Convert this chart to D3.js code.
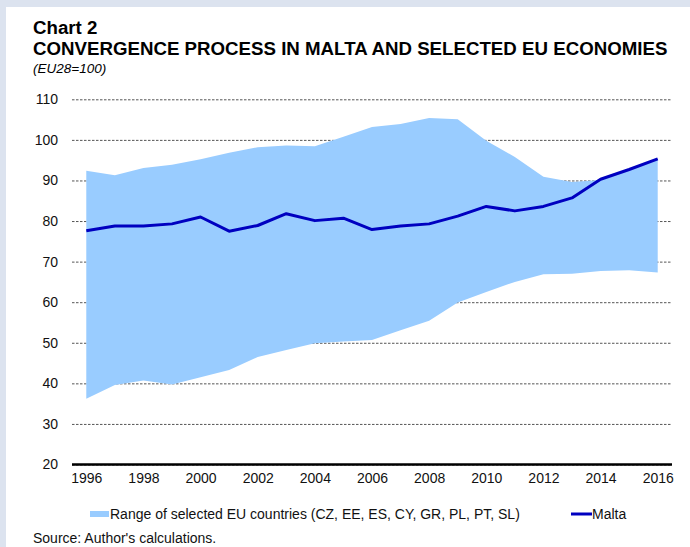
<!DOCTYPE html>
<html>
<meta charset="utf-8">
<script src="https://d3js.org/d3.v7.min.js"></script>
<style>
  body { margin: 0; background: #dce3ef; }
  svg { display: block; font-family: "Liberation Sans", Arial, sans-serif; }
</style>
<body>
<div id="my_dataviz"></div>
<script>

// years on the x axis
var years = [1996, 1997, 1998, 1999, 2000, 2001, 2002, 2003, 2004, 2005, 2006,
             2007, 2008, 2009, 2010, 2011, 2012, 2013, 2014, 2015, 2016];

// Malta, EU28=100
var malta = [77.6, 78.8, 78.8, 79.3, 81.0, 77.5, 78.9, 81.8, 80.1, 80.7, 77.9,
             78.8, 79.3, 81.2, 83.6, 82.5, 83.6, 85.7, 90.3, 92.7, 95.3];

// range of selected EU countries: max and min
var rangeHigh = [92.4, 91.3, 93.1, 93.9, 95.2, 96.8, 98.2, 98.6, 98.4, 100.8, 103.2,
                 103.9, 105.4, 105.1, 99.8, 95.8, 90.9, 89.6, 90.1, 92.5, 95.1];
var rangeLow = [36.2, 39.6, 40.7, 39.7, 41.5, 43.3, 46.5, 48.2, 49.9, 50.3, 50.7,
                53.1, 55.4, 59.9, 62.5, 65.0, 66.9, 67.0, 67.7, 67.9, 67.3];

var yTicks = [20, 30, 40, 50, 60, 70, 80, 90, 100, 110];
var xTicks = [1996, 1998, 2000, 2002, 2004, 2006, 2008, 2010, 2012, 2014, 2016];

var W = 690, H = 547;
var plotL = 72, plotR = 672, plotT = 99.3, plotB = 464.5;

var svg = d3.select("#my_dataviz")
  .append("svg")
    .attr("width", W)
    .attr("height", H);

// white panel inside the grey frame
svg.append("rect")
  .attr("x", 6).attr("y", 7)
  .attr("width", W - 6).attr("height", H - 7)
  .attr("fill", "#ffffff");

// titles
svg.append("text").attr("x", 33).attr("y", 34)
  .attr("font-size", 18.7).attr("font-weight", "bold").attr("fill", "#000")
  .text("Chart 2");
svg.append("text").attr("x", 33).attr("y", 55)
  .attr("font-size", 18.7).attr("font-weight", "bold").attr("fill", "#000")
  .text("CONVERGENCE PROCESS IN MALTA AND SELECTED EU ECONOMIES");
svg.append("text").attr("x", 33).attr("y", 73)
  .attr("font-size", 13.5).attr("font-style", "italic").attr("fill", "#000")
  .text("(EU28=100)");

var x = d3.scalePoint()
  .domain(years)
  .range([plotL, plotR])
  .padding(0.5);

var y = d3.scaleLinear()
  .domain([20, 110])
  .range([plotB, plotT]);

// gridlines + y labels
var yAxis = svg.append("g")
  .attr("transform", "translate(" + plotL + ",0)")
  .call(d3.axisLeft(y).tickValues(yTicks).tickSize(-(plotR - plotL)).tickPadding(14));
yAxis.select(".domain").remove();
yAxis.selectAll(".tick line")
  .attr("stroke", "#555")
  .attr("stroke-dasharray", "2.5,1.5")
  .attr("stroke-width", 1);
yAxis.selectAll(".tick text")
  .attr("font-size", 14)
  .attr("fill", "#111")
  .attr("font-family", "Liberation Sans, Arial, sans-serif");

// range band
var area = d3.area()
  .x(function(d, i) { return x(years[i]); })
  .y0(function(d, i) { return y(rangeLow[i]); })
  .y1(function(d, i) { return y(rangeHigh[i]); });
svg.append("path")
  .datum(years)
  .attr("d", area)
  .attr("fill", "#99ccff");

// Malta line
var line = d3.line()
  .x(function(d, i) { return x(years[i]); })
  .y(function(d) { return y(d); });
svg.append("path")
  .datum(malta)
  .attr("d", line)
  .attr("fill", "none")
  .attr("stroke", "#0000c0")
  .attr("stroke-width", 3)
  .attr("stroke-linejoin", "round");

// x axis
svg.append("line")
  .attr("x1", plotL).attr("x2", plotR)
  .attr("y1", y(20)).attr("y2", y(20))
  .attr("stroke", "#000").attr("stroke-width", 2.5);

var xAxis = svg.append("g")
  .attr("transform", "translate(0," + y(20) + ")")
  .call(d3.axisBottom(x).tickValues(xTicks).tickSize(0).tickPadding(9));
xAxis.select(".domain").remove();
xAxis.selectAll(".tick text")
  .attr("font-size", 14)
  .attr("fill", "#111")
  .attr("font-family", "Liberation Sans, Arial, sans-serif");

// legend
svg.append("rect")
  .attr("x", 90).attr("y", 511)
  .attr("width", 19).attr("height", 6)
  .attr("fill", "#99ccff");
svg.append("text").attr("x", 110).attr("y", 519)
  .attr("font-size", 14).attr("fill", "#111")
  .text("Range of selected EU countries (CZ, EE, ES, CY, GR, PL, PT, SL)");
svg.append("line")
  .attr("x1", 571).attr("x2", 592)
  .attr("y1", 514).attr("y2", 514)
  .attr("stroke", "#0000c0").attr("stroke-width", 3);
svg.append("text").attr("x", 592).attr("y", 519)
  .attr("font-size", 14).attr("fill", "#111")
  .text("Malta");

// source
svg.append("text").attr("x", 33).attr("y", 543)
  .attr("font-size", 14).attr("fill", "#111")
  .text("Source: Author's calculations.");

</script>
</body>
</html>
